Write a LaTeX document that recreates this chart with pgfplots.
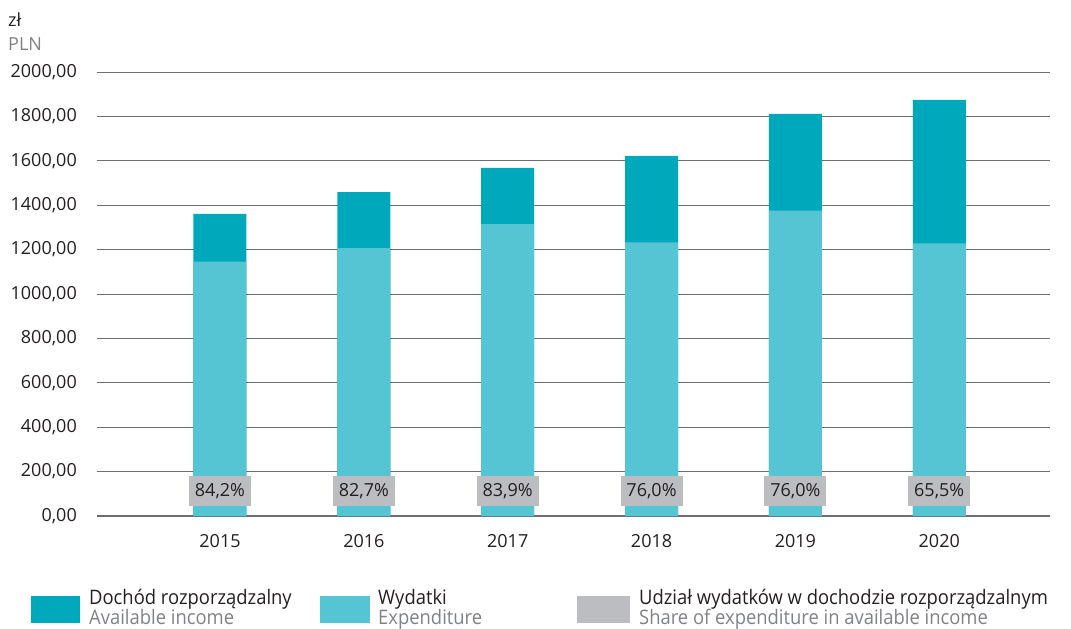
\documentclass[border=0pt]{standalone}
\usepackage{pgfplots}
\pgfplotsset{compat=1.18}
\usepackage{fontspec}
\setmainfont{Open Sans}
\newfontfamily\legfont{Open Sans}[FakeStretch=0.92]
\definecolor{inc}{RGB}{0,168,187}
\definecolor{expc}{RGB}{85,197,211}
\definecolor{shr}{RGB}{188,189,192}
\definecolor{gridc}{RGB}{109,110,113}
\definecolor{txt}{RGB}{35,31,32}
\definecolor{subc}{RGB}{128,130,133}
\newcommand{\tf}{\fontsize{18bp}{22bp}\selectfont}
\newcommand{\lf}{\legfont\fontsize{20bp}{24bp}\selectfont}
\begin{document}
\begin{tikzpicture}
\path[use as bounding box] (-97bp,-113bp) rectangle (974bp,516bp);
\begin{axis}[
  at={(0,0)}, anchor=south west,
  width=953bp, height=444bp, scale only axis,
  xmin=-0.855, xmax=5.77, ymin=0, ymax=2000,
  axis line style={draw=none},
  tick style={draw=none},
  ytick={0,200,...,2000},
  ymajorgrids,
  major grid style={gridc, line width=0.9bp},
  extra y ticks={0},
  extra y tick labels={},
  extra y tick style={grid=major, major grid style={gridc, line width=1.8bp}},
  /pgf/number format/assume math mode=true,
  /pgf/number format/fixed, /pgf/number format/fixed zerofill,
  /pgf/number format/precision=2, /pgf/number format/use comma,
  /pgf/number format/1000 sep={},
  tick label style={font=\tf, text=txt},
  yticklabel style={inner sep=0pt, xshift=-20bp},
  xtick={0,...,5},
  xticklabels={2015,2016,2017,2018,2019,2020},
  xticklabel style={inner sep=0pt, yshift=-18bp},
  clip=false,
]
\addplot[ybar, bar width=53bp, bar shift=0pt, fill=inc, draw=none]
  coordinates {(0,1361)(1,1459)(2,1568)(3,1622)(4,1811)(5,1874)};
\addplot[ybar, bar width=53bp, bar shift=0pt, fill=expc, draw=none]
  coordinates {(0,1146)(1,1207)(2,1315)(3,1233)(4,1376)(5,1228)};
\addplot[only marks, mark=none, nodes near coords, point meta=explicit symbolic,
  every node near coord/.append style={anchor=center, fill=shr, text=txt, inner sep=0pt,
    minimum width=62bp, minimum height=30bp, font=\tf}]
  coordinates {(0,112.6)[84,2\%] (1,112.6)[82,7\%] (2,112.6)[83,9\%]
               (3,112.6)[76,0\%] (4,112.6)[76,0\%] (5,112.6)[65,5\%]};
\end{axis}
\node[anchor=base west, inner sep=0pt, text=txt, font=\tf] at (-89bp,489bp) {zł};
\node[anchor=base west, inner sep=0pt, text=subc, font=\tf] at (-89bp,465bp) {PLN};
\fill[inc] (-66bp,-80bp) rectangle (-17bp,-107bp);
\fill[expc] (223bp,-80bp) rectangle (273bp,-107bp);
\fill[shr] (480bp,-80bp) rectangle (533bp,-107bp);
\node[anchor=base west, inner sep=0pt, text=txt, font=\lf] at (-8bp,-88bp) {Dochód rozporządzalny};
\node[anchor=base west, inner sep=0pt, text=subc, font=\lf] at (-8bp,-108bp) {Available income};
\node[anchor=base west, inner sep=0pt, text=txt, font=\lf] at (281bp,-88bp) {Wydatki};
\node[anchor=base west, inner sep=0pt, text=subc, font=\lf] at (281bp,-108bp) {Expenditure};
\node[anchor=base west, inner sep=0pt, text=txt, font=\lf] at (542bp,-88bp) {Udział wydatków w dochodzie rozporządzalnym};
\node[anchor=base west, inner sep=0pt, text=subc, font=\lf] at (542bp,-108bp) {Share of expenditure in available income};
\end{tikzpicture}
\end{document}
